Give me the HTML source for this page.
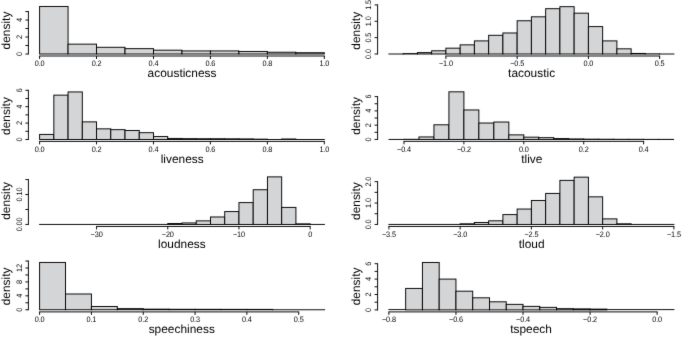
<!DOCTYPE html>
<html lang="en">
<head>
<meta charset="utf-8">
<title>Histograms</title>
<style>
html,body{margin:0;padding:0;background:#fff;}
body{width:685px;height:337px;overflow:hidden;}
svg{display:block;}
text{text-rendering:geometricPrecision;font-family:"Liberation Sans",Arial,Helvetica,sans-serif;fill:#000;text-anchor:middle;}
.tk text{font-size:7.9px;letter-spacing:-0.15px;}
.lb{font-size:11.88px;letter-spacing:0.02px;}
</style>
</head>
<body>
<svg width="685" height="337" viewBox="0 0 685 337">
<defs><filter id="soft" x="0" y="0" width="685" height="337" filterUnits="userSpaceOnUse" color-interpolation-filters="sRGB"><feConvolveMatrix order="3" kernelMatrix="0.0064 0.0672 0.0064 0.0672 0.7056 0.0672 0.0064 0.0672 0.0064" divisor="1" edgeMode="duplicate" preserveAlpha="false"/></filter></defs>
<g filter="url(#soft)">
<rect x="0" y="0" width="685" height="337" fill="#fff"/>
<g><g fill="#d4d5d7" stroke="#000" stroke-width="0.95"><rect x="39.60" y="6.46" width="28.47" height="47.54"/><rect x="68.07" y="44.15" width="28.47" height="9.85"/><rect x="96.54" y="47.29" width="28.47" height="6.71"/><rect x="125.01" y="48.65" width="28.47" height="5.35"/><rect x="153.48" y="50.18" width="28.47" height="3.82"/><rect x="181.95" y="50.94" width="28.47" height="3.06"/><rect x="210.42" y="50.94" width="28.47" height="3.06"/><rect x="238.89" y="51.45" width="28.47" height="2.55"/><rect x="267.36" y="52.22" width="28.47" height="1.78"/><rect x="295.83" y="52.73" width="28.47" height="1.27"/></g><path d="M39.12 56.00H324.78M39.60 56.00v3.00M96.54 56.00v3.00M153.48 56.00v3.00M210.42 56.00v3.00M267.36 56.00v3.00M324.30 56.00v3.00M28.40 54.48V11.07M28.40 54.00h-3.00M28.40 45.51h-3.00M28.40 37.02h-3.00M28.40 28.53h-3.00M28.40 20.04h-3.00M28.40 11.55h-3.00" fill="none" stroke="#000" stroke-width="0.95" stroke-linecap="butt"/><g class="tk"><text transform="translate(39.60 65.90) scale(0.93 1)">0.0</text><text transform="translate(96.54 65.90) scale(0.93 1)">0.2</text><text transform="translate(153.48 65.90) scale(0.93 1)">0.4</text><text transform="translate(210.42 65.90) scale(0.93 1)">0.6</text><text transform="translate(267.36 65.90) scale(0.93 1)">0.8</text><text transform="translate(324.30 65.90) scale(0.93 1)">1.0</text></g><g class="tk"><text transform="translate(21.50 54.00) rotate(-90) scale(0.93 1)">0</text><text transform="translate(21.50 37.02) rotate(-90) scale(0.93 1)">2</text><text transform="translate(21.50 20.04) rotate(-90) scale(0.93 1)">4</text></g><text class="lb" x="182.05" y="77.05">acousticness</text><text class="lb" transform="translate(10.00 30.53) rotate(-90)">density</text></g>
<g><g fill="#d4d5d7" stroke="#000" stroke-width="0.95"><path d="M388.42 54.00H403.62"/><rect x="403.15" y="53.60" width="14.25" height="0.40"/><rect x="417.40" y="52.62" width="14.25" height="1.38"/><rect x="431.65" y="50.80" width="14.25" height="3.20"/><rect x="445.90" y="48.16" width="14.25" height="5.84"/><rect x="460.15" y="44.86" width="14.25" height="9.14"/><rect x="474.40" y="40.90" width="14.25" height="13.10"/><rect x="488.65" y="35.29" width="14.25" height="18.71"/><rect x="502.90" y="32.98" width="14.25" height="21.02"/><rect x="517.15" y="20.77" width="14.25" height="33.23"/><rect x="531.40" y="16.81" width="14.25" height="37.19"/><rect x="545.65" y="8.69" width="14.25" height="45.31"/><rect x="559.90" y="6.68" width="14.25" height="47.32"/><rect x="574.15" y="13.18" width="14.25" height="40.82"/><rect x="588.40" y="26.61" width="14.25" height="27.39"/><rect x="602.65" y="40.90" width="14.25" height="13.10"/><rect x="616.90" y="48.82" width="14.25" height="5.18"/><rect x="631.15" y="53.44" width="14.25" height="0.56"/><rect x="645.40" y="53.84" width="14.25" height="0.16"/><path d="M659.17 54.00H674.38"/></g><path d="M445.42 56.00H660.12M445.90 56.00v3.00M517.15 56.00v3.00M588.40 56.00v3.00M659.65 56.00v3.00M377.60 54.48V4.43M377.60 54.00h-3.00M377.60 37.64h-3.00M377.60 21.27h-3.00M377.60 4.91h-3.00" fill="none" stroke="#000" stroke-width="0.95" stroke-linecap="butt"/><g class="tk"><text transform="translate(445.90 65.90) scale(0.93 1)">−1.0</text><text transform="translate(517.15 65.90) scale(0.93 1)">−0.5</text><text transform="translate(588.40 65.90) scale(0.93 1)">0.0</text><text transform="translate(659.65 65.90) scale(0.93 1)">0.5</text></g><g class="tk"><text transform="translate(370.70 54.00) rotate(-90) scale(0.93 1)">0.0</text><text transform="translate(370.70 37.64) rotate(-90) scale(0.93 1)">0.5</text><text transform="translate(370.70 21.27) rotate(-90) scale(0.93 1)">1.0</text><text transform="translate(370.70 4.91) rotate(-90) scale(0.93 1)">1.5</text></g><text class="lb" x="531.60" y="77.05">tacoustic</text><text class="lb" transform="translate(360.10 30.78) rotate(-90)">density</text></g>
<g><g fill="#d4d5d7" stroke="#000" stroke-width="0.95"><rect x="39.60" y="134.42" width="14.23" height="5.08"/><rect x="53.84" y="95.14" width="14.23" height="44.36"/><rect x="68.07" y="91.94" width="14.24" height="47.56"/><rect x="82.31" y="121.87" width="14.23" height="17.63"/><rect x="96.54" y="128.84" width="14.24" height="10.66"/><rect x="110.78" y="129.66" width="14.24" height="9.84"/><rect x="125.01" y="130.48" width="14.23" height="9.02"/><rect x="139.25" y="132.69" width="14.23" height="6.81"/><rect x="153.48" y="136.55" width="14.24" height="2.95"/><rect x="167.72" y="138.43" width="14.23" height="1.07"/><rect x="181.95" y="138.68" width="14.24" height="0.82"/><rect x="196.19" y="138.76" width="14.24" height="0.74"/><rect x="210.42" y="138.76" width="14.23" height="0.74"/><rect x="224.66" y="138.84" width="14.24" height="0.66"/><rect x="238.89" y="138.93" width="14.23" height="0.57"/><rect x="253.12" y="139.17" width="14.24" height="0.33"/><path d="M266.88 139.50H282.07"/><rect x="281.60" y="139.01" width="14.24" height="0.49"/><path d="M295.36 139.50H324.78"/></g><path d="M39.12 141.40H324.78M39.60 141.40v3.00M96.54 141.40v3.00M153.48 141.40v3.00M210.42 141.40v3.00M267.36 141.40v3.00M324.30 141.40v3.00M28.40 139.97V89.83M28.40 139.50h-3.00M28.40 131.30h-3.00M28.40 123.10h-3.00M28.40 114.90h-3.00M28.40 106.70h-3.00M28.40 98.50h-3.00M28.40 90.30h-3.00" fill="none" stroke="#000" stroke-width="0.95" stroke-linecap="butt"/><g class="tk"><text transform="translate(39.60 151.70) scale(0.93 1)">0.0</text><text transform="translate(96.54 151.70) scale(0.93 1)">0.2</text><text transform="translate(153.48 151.70) scale(0.93 1)">0.4</text><text transform="translate(210.42 151.70) scale(0.93 1)">0.6</text><text transform="translate(267.36 151.70) scale(0.93 1)">0.8</text><text transform="translate(324.30 151.70) scale(0.93 1)">1.0</text></g><g class="tk"><text transform="translate(21.50 139.50) rotate(-90) scale(0.93 1)">0</text><text transform="translate(21.50 123.10) rotate(-90) scale(0.93 1)">2</text><text transform="translate(21.50 106.70) rotate(-90) scale(0.93 1)">4</text><text transform="translate(21.50 90.30) rotate(-90) scale(0.93 1)">6</text></g><text class="lb" x="182.20" y="163.00">liveness</text><text class="lb" transform="translate(10.00 116.02) rotate(-90)">density</text></g>
<g><g fill="#d4d5d7" stroke="#000" stroke-width="0.95"><path d="M388.52 139.45H404.45"/><rect x="403.98" y="139.31" width="14.98" height="0.14"/><rect x="418.96" y="136.95" width="14.98" height="2.50"/><rect x="433.94" y="124.81" width="14.98" height="14.64"/><rect x="448.92" y="91.83" width="14.98" height="47.62"/><rect x="463.89" y="109.96" width="14.98" height="29.49"/><rect x="478.87" y="123.03" width="14.98" height="16.42"/><rect x="493.85" y="122.03" width="14.98" height="17.42"/><rect x="508.83" y="134.88" width="14.98" height="4.57"/><rect x="523.81" y="137.17" width="14.98" height="2.28"/><rect x="538.79" y="137.66" width="14.98" height="1.78"/><rect x="553.77" y="138.59" width="14.98" height="0.86"/><rect x="568.75" y="138.95" width="14.98" height="0.50"/><rect x="583.73" y="139.16" width="14.98" height="0.29"/><rect x="598.71" y="139.24" width="14.98" height="0.21"/><rect x="613.68" y="139.31" width="14.98" height="0.14"/><rect x="628.66" y="139.31" width="14.98" height="0.14"/><rect x="643.64" y="139.38" width="14.98" height="0.07"/><rect x="658.62" y="139.38" width="14.98" height="0.07"/></g><path d="M403.50 141.35H644.12M403.98 141.35v3.00M463.89 141.35v3.00M523.81 141.35v3.00M583.73 141.35v3.00M643.64 141.35v3.00M377.60 139.92V96.13M377.60 139.45h-3.00M377.60 132.31h-3.00M377.60 125.17h-3.00M377.60 118.03h-3.00M377.60 110.89h-3.00M377.60 103.75h-3.00M377.60 96.61h-3.00" fill="none" stroke="#000" stroke-width="0.95" stroke-linecap="butt"/><g class="tk"><text transform="translate(403.98 151.70) scale(0.93 1)">−0.4</text><text transform="translate(463.89 151.70) scale(0.93 1)">−0.2</text><text transform="translate(523.81 151.70) scale(0.93 1)">0.0</text><text transform="translate(583.73 151.70) scale(0.93 1)">0.2</text><text transform="translate(643.64 151.70) scale(0.93 1)">0.4</text></g><g class="tk"><text transform="translate(370.70 139.45) rotate(-90) scale(0.93 1)">0</text><text transform="translate(370.70 125.17) rotate(-90) scale(0.93 1)">2</text><text transform="translate(370.70 110.89) rotate(-90) scale(0.93 1)">4</text><text transform="translate(370.70 96.61) rotate(-90) scale(0.93 1)">6</text></g><text class="lb" x="531.85" y="163.00">tlive</text><text class="lb" transform="translate(360.10 115.94) rotate(-90)">density</text></g>
<g><g fill="#d4d5d7" stroke="#000" stroke-width="0.95"><path d="M39.12 224.45H168.23"/><rect x="167.76" y="223.55" width="14.24" height="0.90"/><rect x="182.00" y="222.95" width="14.24" height="1.50"/><rect x="196.24" y="220.86" width="14.24" height="3.59"/><rect x="210.48" y="216.97" width="14.24" height="7.48"/><rect x="224.72" y="211.58" width="14.24" height="12.87"/><rect x="238.96" y="202.61" width="14.24" height="21.84"/><rect x="253.20" y="189.74" width="14.24" height="34.71"/><rect x="267.44" y="176.88" width="14.24" height="47.57"/><rect x="281.68" y="207.40" width="14.24" height="17.05"/><rect x="295.92" y="223.85" width="14.24" height="0.60"/><path d="M309.68 224.45H324.88"/></g><path d="M96.09 226.45H310.63M96.56 226.45v3.00M167.76 226.45v3.00M238.96 226.45v3.00M310.16 226.45v3.00M28.40 224.92V179.09M28.40 224.45h-3.00M28.40 209.49h-3.00M28.40 194.53h-3.00M28.40 179.57h-3.00" fill="none" stroke="#000" stroke-width="0.95" stroke-linecap="butt"/><g class="tk"><text transform="translate(96.56 236.80) scale(0.93 1)">−30</text><text transform="translate(167.76 236.80) scale(0.93 1)">−20</text><text transform="translate(238.96 236.80) scale(0.93 1)">−10</text><text transform="translate(310.16 236.80) scale(0.93 1)">0</text></g><g class="tk"><text transform="translate(21.50 224.45) rotate(-90) scale(0.93 1)">0.00</text><text transform="translate(21.50 194.53) rotate(-90) scale(0.93 1)">0.10</text></g><text class="lb" x="181.85" y="248.00">loudness</text><text class="lb" transform="translate(10.00 200.96) rotate(-90)">density</text></g>
<g><g fill="#d4d5d7" stroke="#000" stroke-width="0.95"><path d="M388.42 224.45H460.62"/><rect x="460.15" y="223.81" width="14.25" height="0.64"/><rect x="474.40" y="222.52" width="14.25" height="1.93"/><rect x="488.65" y="220.81" width="14.25" height="3.64"/><rect x="502.90" y="214.61" width="14.25" height="9.84"/><rect x="517.15" y="209.04" width="14.25" height="15.41"/><rect x="531.40" y="200.48" width="14.25" height="23.97"/><rect x="545.65" y="193.42" width="14.25" height="31.03"/><rect x="559.90" y="180.37" width="14.25" height="44.08"/><rect x="574.15" y="177.16" width="14.25" height="47.29"/><rect x="588.40" y="196.84" width="14.25" height="27.61"/><rect x="602.65" y="218.89" width="14.25" height="5.56"/><rect x="616.90" y="223.81" width="14.25" height="0.64"/><path d="M630.67 224.45H674.38"/></g><path d="M388.42 226.45H674.38M388.90 226.45v3.00M460.15 226.45v3.00M531.40 226.45v3.00M602.65 226.45v3.00M673.90 226.45v3.00M377.60 224.92V181.17M377.60 224.45h-3.00M377.60 213.75h-3.00M377.60 203.05h-3.00M377.60 192.35h-3.00M377.60 181.65h-3.00" fill="none" stroke="#000" stroke-width="0.95" stroke-linecap="butt"/><g class="tk"><text transform="translate(388.90 236.80) scale(0.93 1)">−3.5</text><text transform="translate(460.15 236.80) scale(0.93 1)">−3.0</text><text transform="translate(531.40 236.80) scale(0.93 1)">−2.5</text><text transform="translate(602.65 236.80) scale(0.93 1)">−2.0</text><text transform="translate(673.90 236.80) scale(0.93 1)">−1.5</text></g><g class="tk"><text transform="translate(370.70 224.45) rotate(-90) scale(0.93 1)">0.0</text><text transform="translate(370.70 203.05) rotate(-90) scale(0.93 1)">1.0</text><text transform="translate(370.70 181.65) rotate(-90) scale(0.93 1)">2.0</text></g><text class="lb" x="531.60" y="248.00">tloud</text><text class="lb" transform="translate(360.10 201.10) rotate(-90)">density</text></g>
<g><g fill="#d4d5d7" stroke="#000" stroke-width="0.95"><rect x="39.60" y="262.44" width="25.91" height="47.31"/><rect x="65.51" y="293.99" width="25.91" height="15.76"/><rect x="91.42" y="306.51" width="25.91" height="3.24"/><rect x="117.33" y="308.64" width="25.91" height="1.11"/><rect x="143.24" y="309.16" width="25.91" height="0.59"/><rect x="169.15" y="309.30" width="25.91" height="0.45"/><rect x="195.05" y="309.33" width="25.91" height="0.42"/><rect x="220.96" y="309.37" width="25.91" height="0.38"/><rect x="246.87" y="309.40" width="25.91" height="0.35"/><path d="M272.31 309.75H325.08"/></g><path d="M39.12 311.90H299.17M39.60 311.90v3.00M91.42 311.90v3.00M143.24 311.90v3.00M195.05 311.90v3.00M246.87 311.90v3.00M298.69 311.90v3.00M28.40 310.23V260.57M28.40 309.75h-3.00M28.40 302.79h-3.00M28.40 295.83h-3.00M28.40 288.88h-3.00M28.40 281.92h-3.00M28.40 274.96h-3.00M28.40 268.00h-3.00M28.40 261.04h-3.00" fill="none" stroke="#000" stroke-width="0.95" stroke-linecap="butt"/><g class="tk"><text transform="translate(39.60 322.20) scale(0.93 1)">0.0</text><text transform="translate(91.42 322.20) scale(0.93 1)">0.1</text><text transform="translate(143.24 322.20) scale(0.93 1)">0.2</text><text transform="translate(195.05 322.20) scale(0.93 1)">0.3</text><text transform="translate(246.87 322.20) scale(0.93 1)">0.4</text><text transform="translate(298.69 322.20) scale(0.93 1)">0.5</text></g><g class="tk"><text transform="translate(21.50 309.75) rotate(-90) scale(0.93 1)">0</text><text transform="translate(21.50 295.83) rotate(-90) scale(0.93 1)">4</text><text transform="translate(21.50 281.92) rotate(-90) scale(0.93 1)">8</text><text transform="translate(21.50 268.00) rotate(-90) scale(0.93 1)">12</text></g><text class="lb" x="181.75" y="332.90">speechiness</text><text class="lb" transform="translate(10.00 286.39) rotate(-90)">density</text></g>
<g><g fill="#d4d5d7" stroke="#000" stroke-width="0.95"><path d="M388.42 309.60H406.14"/><rect x="405.66" y="288.42" width="16.76" height="21.48"/><rect x="422.43" y="262.47" width="16.76" height="47.43"/><rect x="439.19" y="279.10" width="16.76" height="30.80"/><rect x="455.96" y="291.19" width="16.76" height="18.71"/><rect x="472.72" y="297.81" width="16.76" height="12.09"/><rect x="489.49" y="301.81" width="16.76" height="8.08"/><rect x="506.25" y="304.36" width="16.76" height="5.54"/><rect x="523.02" y="306.36" width="16.76" height="3.54"/><rect x="539.78" y="307.36" width="16.76" height="2.54"/><rect x="556.55" y="308.67" width="16.76" height="1.23"/><rect x="573.31" y="308.90" width="16.76" height="1.00"/><rect x="590.08" y="309.13" width="16.76" height="0.77"/><path d="M606.37 309.60H674.38"/></g><path d="M388.42 311.90H657.61M388.90 311.90v3.00M455.96 311.90v3.00M523.02 311.90v3.00M590.08 311.90v3.00M657.14 311.90v3.00M377.60 310.38V263.22M377.60 309.90h-3.00M377.60 302.20h-3.00M377.60 294.50h-3.00M377.60 286.80h-3.00M377.60 279.10h-3.00M377.60 271.40h-3.00M377.60 263.70h-3.00" fill="none" stroke="#000" stroke-width="0.95" stroke-linecap="butt"/><g class="tk"><text transform="translate(388.90 322.20) scale(0.93 1)">−0.8</text><text transform="translate(455.96 322.20) scale(0.93 1)">−0.6</text><text transform="translate(523.02 322.20) scale(0.93 1)">−0.4</text><text transform="translate(590.08 322.20) scale(0.93 1)">−0.2</text><text transform="translate(657.14 322.20) scale(0.93 1)">0.0</text></g><g class="tk"><text transform="translate(370.70 309.90) rotate(-90) scale(0.93 1)">0</text><text transform="translate(370.70 294.50) rotate(-90) scale(0.93 1)">2</text><text transform="translate(370.70 279.10) rotate(-90) scale(0.93 1)">4</text><text transform="translate(370.70 263.70) rotate(-90) scale(0.93 1)">6</text></g><text class="lb" x="531.10" y="332.90">tspeech</text><text class="lb" transform="translate(360.10 286.48) rotate(-90)">density</text></g>
</g>
</svg>
</body>
</html>
